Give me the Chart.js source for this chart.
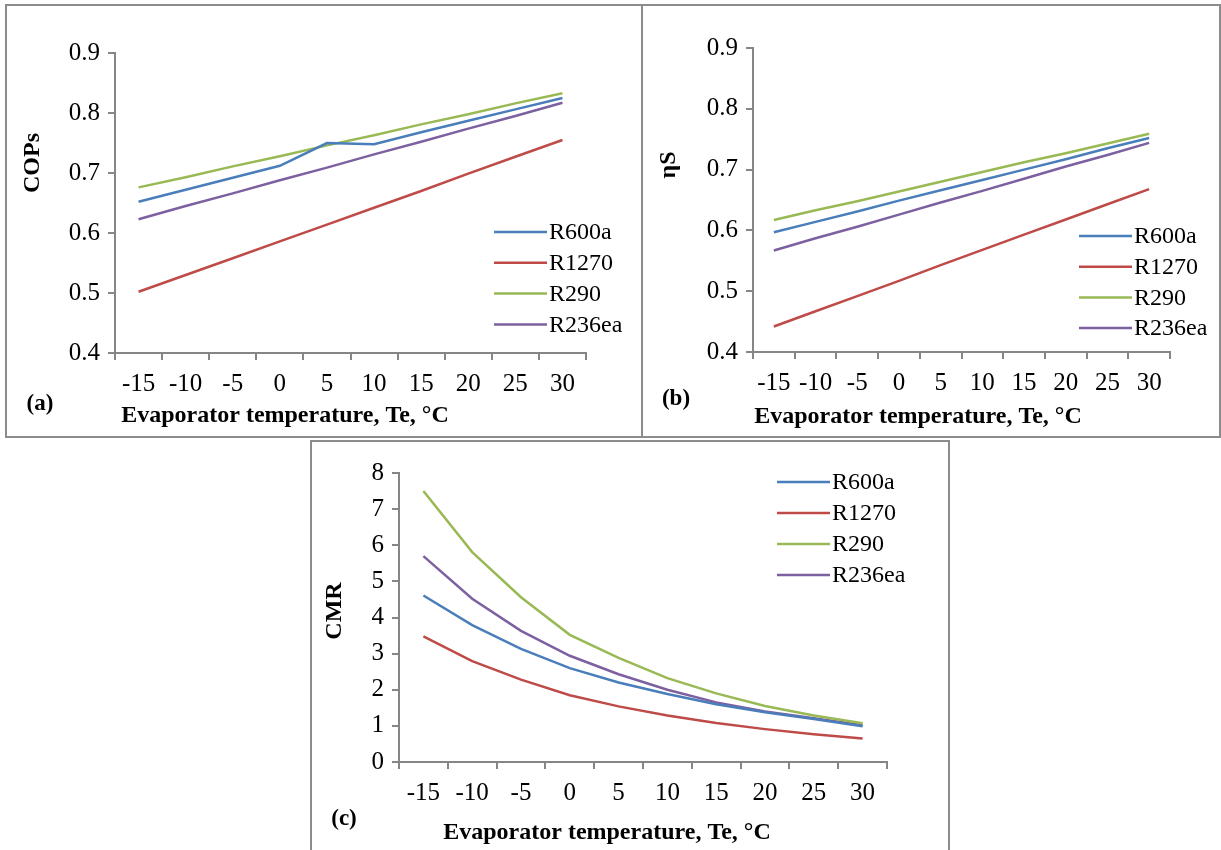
<!DOCTYPE html>
<html>
<head>
<meta charset="utf-8">
<script src="https://cdn.jsdelivr.net/npm/chart.js@4.4.1/dist/chart.umd.min.js"></script>
<style>
  html, body { margin: 0; padding: 0; background: #fff; }
  #page { position: relative; width: 1221px; height: 850px; overflow: hidden; }
  #page canvas { position: absolute; left: 0; top: 0; }
  .frame { position: absolute; border: 2px solid #8c8c8c; box-sizing: border-box; }
</style>
</head>
<body>
<div id="page">
  <div class="frame" style="left:5px;top:4px;width:1216px;height:434px"></div>
  <div class="frame" style="left:641px;top:4px;width:2px;height:434px;border-width:0 0 0 2px"></div>
  <div class="frame" style="left:310px;top:440px;width:640px;height:420px"></div>
  <canvas id="chartA" width="1221" height="850"></canvas>
  <canvas id="chartB" width="1221" height="850"></canvas>
  <canvas id="chartC" width="1221" height="850"></canvas>
</div>
<script>
// Evaporator temperature categories (°C)
const temps = ['-15', '-10', '-5', '0', '5', '10', '15', '20', '25', '30'];
const fluids = ['R600a', 'R1270', 'R290', 'R236ea'];

// (a) COPs
const copR600a  = [0.652, 0.672, 0.692, 0.712, 0.750, 0.748, 0.768, 0.787, 0.806, 0.825];
const copR1270  = [0.502, 0.530, 0.558, 0.586, 0.614, 0.642, 0.670, 0.699, 0.727, 0.755];
const copR290   = [0.676, 0.693, 0.711, 0.728, 0.746, 0.763, 0.781, 0.798, 0.816, 0.833];
const copR236ea = [0.623, 0.645, 0.666, 0.688, 0.709, 0.731, 0.752, 0.774, 0.795, 0.817];

// (b) isentropic efficiency
const etaR600a  = [0.597, 0.614, 0.631, 0.649, 0.666, 0.683, 0.700, 0.717, 0.735, 0.752];
const etaR1270  = [0.442, 0.467, 0.492, 0.517, 0.543, 0.568, 0.593, 0.618, 0.643, 0.668];
const etaR290   = [0.617, 0.633, 0.648, 0.664, 0.680, 0.696, 0.712, 0.727, 0.743, 0.759];
const etaR236ea = [0.567, 0.587, 0.606, 0.626, 0.646, 0.665, 0.685, 0.705, 0.724, 0.744];

// (c) CMR
const cmrR600a  = [4.61, 3.79, 3.13, 2.60, 2.20, 1.88, 1.60, 1.38, 1.19, 0.99];
const cmrR1270  = [3.48, 2.79, 2.28, 1.85, 1.54, 1.29, 1.08, 0.91, 0.77, 0.65];
const cmrR290   = [7.50, 5.81, 4.56, 3.52, 2.88, 2.32, 1.90, 1.55, 1.29, 1.07];
const cmrR236ea = [5.70, 4.52, 3.63, 2.94, 2.43, 2.00, 1.65, 1.40, 1.21, 1.02];

const colors = ['#4A7EBB', '#BE4B48', '#98B954', '#7D60A0'];
const axisGray = '#868686';
const serif = "'Liberation Serif', 'Times New Roman', serif";

Chart.defaults.font.family = serif;
Chart.defaults.color = '#000';

// axis titles, panel tag and legend drawn at fixed spots
const panelText = {
    id: 'panelText',
    afterDraw(chart, args, o) {
        const ctx = chart.ctx;
        ctx.save();
        ctx.fillStyle = '#000';
        ctx.textAlign = 'center';
        ctx.textBaseline = 'middle';

        ctx.font = 'bold 24px ' + serif;
        ctx.fillText(o.xTitle, o.xTitleAt[0], o.xTitleAt[1]);

        ctx.save();
        ctx.translate(o.yTitleAt[0], o.yTitleAt[1]);
        ctx.rotate(-Math.PI / 2);
        ctx.fillText(o.yTitle, 0, 0);
        ctx.restore();

        ctx.font = 'bold 23px ' + serif;
        ctx.fillText(o.tag, o.tagAt[0], o.tagAt[1]);

        ctx.font = '24px ' + serif;
        ctx.textAlign = 'left';
        chart.data.datasets.forEach((ds, i) => {
            const y = o.legendTop + i * o.legendGap;
            ctx.strokeStyle = ds.borderColor;
            ctx.lineWidth = 2.5;
            ctx.beginPath();
            ctx.moveTo(o.legendX, y);
            ctx.lineTo(o.legendX + 53, y);
            ctx.stroke();
            ctx.fillText(ds.label, o.legendX + 55, y + 1);
        });
        ctx.restore();
    }
};

function makeDatasets(series) {
    return series.map((vals, i) => ({
        label: fluids[i],
        data: vals,
        borderColor: colors[i],
        backgroundColor: colors[i],
        borderWidth: 2.5,
        pointRadius: 0,
        tension: 0
    }));
}

function makeChart(id, series, yMin, yMax, yStep, decimals, padding, text) {
    return new Chart(document.getElementById(id), {
        type: 'line',
        data: { labels: temps, datasets: makeDatasets(series) },
        plugins: [panelText],
        options: {
            responsive: false,
            animation: false,
            layout: { padding },
            plugins: {
                legend: { display: false },
                tooltip: { enabled: false },
                panelText: text
            },
            scales: {
                x: {
                    type: 'category',
                    offset: true,
                    afterFit: s => { s.height = 50; },
                    grid: { offset: true, drawOnChartArea: false, tickLength: 7, color: axisGray, lineWidth: 2 },
                    border: { color: axisGray, width: 2 },
                    ticks: { font: { size: 25 }, padding: 9, maxRotation: 0, autoSkip: false }
                },
                y: {
                    min: yMin,
                    max: yMax,
                    afterFit: s => { s.width = 60; },
                    grid: { drawOnChartArea: false, tickLength: 7, color: axisGray, lineWidth: 2 },
                    border: { color: axisGray, width: 2 },
                    ticks: {
                        stepSize: yStep,
                        font: { size: 25 },
                        padding: 8,
                        callback: v => Number(v).toFixed(decimals)
                    }
                }
            }
        }
    });
}

makeChart('chartA', [copR600a, copR1270, copR290, copR236ea], 0.4, 0.9, 0.1, 1,
    { left: 55, top: 53, right: 635, bottom: 447 },
    { xTitle: 'Evaporator temperature, Te, °C', xTitleAt: [285, 416],
      yTitle: 'COPs', yTitleAt: [33, 163], tag: '(a)', tagAt: [40, 404],
      legendX: 494, legendTop: 232, legendGap: 30.8 });

makeChart('chartB', [etaR600a, etaR1270, etaR290, etaR236ea], 0.4, 0.9, 0.1, 1,
    { left: 693, top: 48, right: 51, bottom: 448 },
    { xTitle: 'Evaporator temperature, Te, °C', xTitleAt: [918, 417],
      yTitle: 'ηS', yTitleAt: [669, 165], tag: '(b)', tagAt: [676, 399],
      legendX: 1079, legendTop: 236, legendGap: 30.7 });

makeChart('chartC', [cmrR600a, cmrR1270, cmrR290, cmrR236ea], 0, 8, 1, 0,
    { left: 339, top: 473, right: 334, bottom: 38 },
    { xTitle: 'Evaporator temperature, Te, °C', xTitleAt: [607, 833],
      yTitle: 'CMR', yTitleAt: [335, 611], tag: '(c)', tagAt: [344, 819],
      legendX: 777, legendTop: 482, legendGap: 31 });
</script>
</body>
</html>
